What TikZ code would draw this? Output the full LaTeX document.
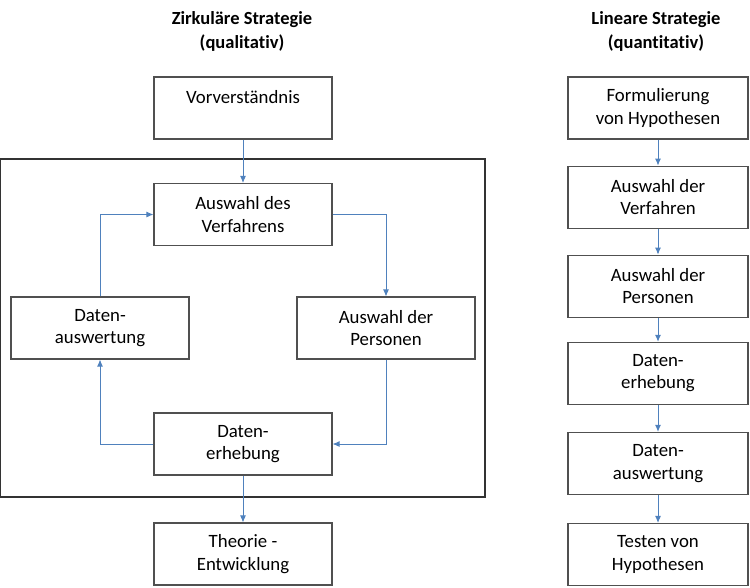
\documentclass[tikz,border=0pt]{standalone}
\usepackage{fontspec}
\setmainfont{Carlito}[RawFeature=-liga]
\usetikzlibrary{positioning,arrows.meta}
\definecolor{arrblue}{HTML}{4F81BD}
\definecolor{boxgray}{HTML}{505050}
\tikzset{
  stepbox/.style={draw=boxgray, line width=1.1pt, minimum width=178, minimum height=62,
    align=center, inner sep=2pt, font=\fontsize{18.8}{22.5}\selectfont},
  heading/.style={align=center, font=\fontsize{18.5}{24}\selectfont\bfseries},
  arr/.style={draw=arrblue, line width=0.9pt, -{Latex[length=7pt,width=6pt]}},
}
\begin{document}
\begin{tikzpicture}[x=1pt, y=-1pt]
  \useasboundingbox (0,0) rectangle (750,587);

  % headings
  \node[heading] (hzirk) at (242,31) {Zirkuläre Strategie\\(qualitativ)};
  \node[heading] (hlin) at (656,31) {Lineare Strategie\\(quantitativ)};

  % circular strategy
  \draw[black!80, line width=1.1pt] (0.7,159) rectangle (485,497);
  \node[stepbox] (vor) at (243,108) {Vorverständnis\\~};
  \node[stepbox] (verf) at (243,214.5) {Auswahl des\\Verfahrens};
  \node[stepbox] (ausw) at (100,328) {Daten-\\auswertung};
  \node[stepbox] (pers) at (386,328) {Auswahl der\\Personen};
  \node[stepbox] (erheb) at (243,444) {Daten-\\erhebung};
  \node[stepbox] (theo) at (243,554) {Theorie -\\Entwicklung};

  \draw[arr] (vor) -- (verf);
  \draw[arr] (verf.east) -| (pers.north);
  \draw[arr] (pers.south) |- (erheb.east);
  \draw[arr] (erheb.west) -| (ausw.south);
  \draw[arr] (ausw.north) |- (verf.west);
  \draw[arr] (erheb) -- (theo);

  % linear strategy
  \node[stepbox, minimum width=180] (hyp) at (658,108) {Formulierung\\von Hypothesen};
  \node[stepbox, minimum width=180, below=26pt of hyp] (lverf) {Auswahl der\\Verfahren};
  \node[stepbox, minimum width=180, below=26pt of lverf] (lpers) {Auswahl der\\Personen};
  \node[stepbox, minimum width=180, below=24pt of lpers] (lerheb) {Daten-\\erhebung};
  \node[stepbox, minimum width=180, below=27pt of lerheb] (lausw) {Daten-\\auswertung};
  \node[stepbox, minimum width=180, below=28pt of lausw] (test) {Testen von\\Hypothesen};

  \draw[arr] (hyp) -- (lverf);
  \draw[arr] (lverf) -- (lpers);
  \draw[arr] (lpers) -- (lerheb);
  \draw[arr] (lerheb) -- (lausw);
  \draw[arr] (lausw) -- (test);
\end{tikzpicture}
\end{document}
